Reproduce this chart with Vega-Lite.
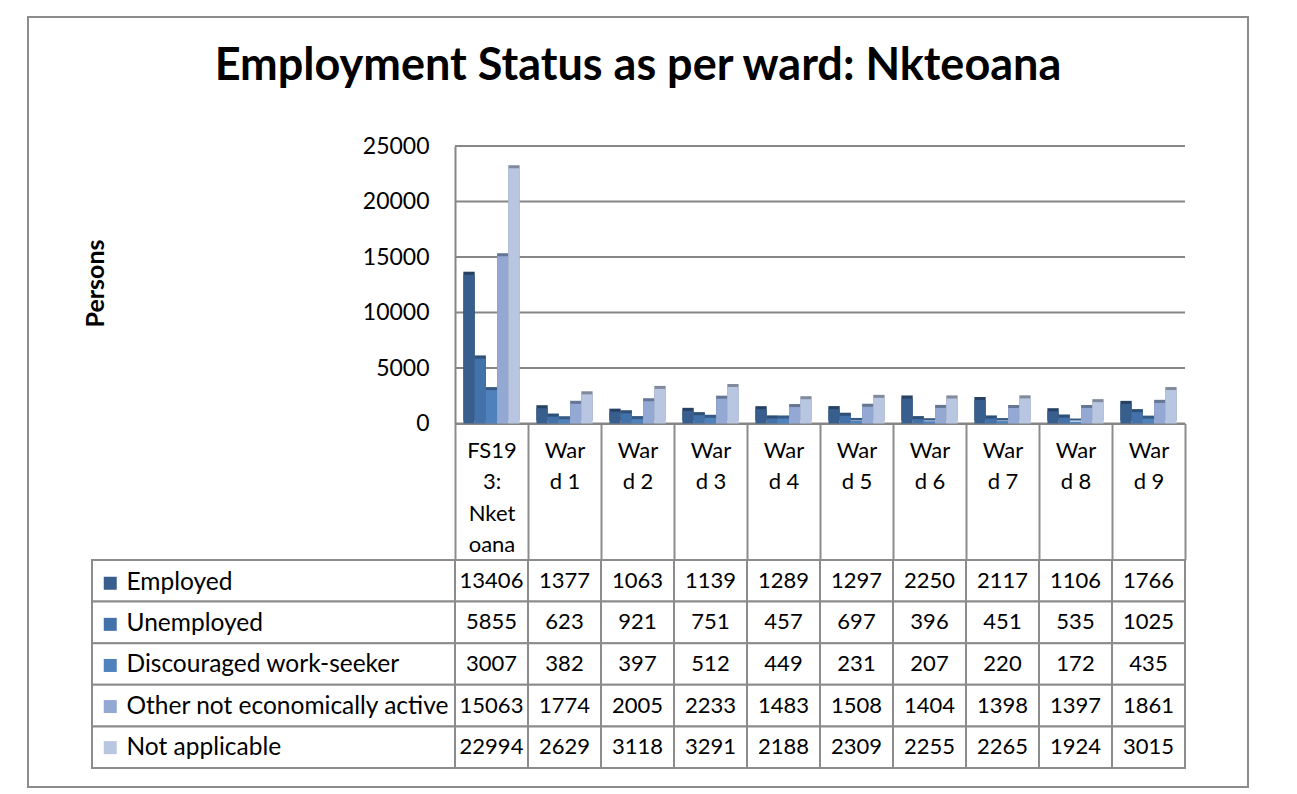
{
  "$schema": "https://vega.github.io/schema/vega-lite/v6.json",
  "width": 1220,
  "height": 770,
  "autosize": {"type": "none"},
  "padding": {"left": 28, "top": 17, "right": 49, "bottom": 7},
  "background": "white",
  "config": {"view": {"stroke": "#8c8c8c", "strokeWidth": 2}, "font": "Lato"},
  "title": {"text": "Employment Status as per ward: Nkteoana", "font": "Lato", "fontSize": 45, "fontWeight": "bold", "color": "black", "anchor": "middle", "frame": "group", "offset": -72},
  "datasets": {
    "main": [
      {"cat": "FS193: Nketoana", "series": "Employed", "value": 13406},
      {"cat": "FS193: Nketoana", "series": "Unemployed", "value": 5855},
      {"cat": "FS193: Nketoana", "series": "Discouraged work-seeker", "value": 3007},
      {"cat": "FS193: Nketoana", "series": "Other not economically active", "value": 15063},
      {"cat": "FS193: Nketoana", "series": "Not applicable", "value": 22994},
      {"cat": "Ward 1", "series": "Employed", "value": 1377},
      {"cat": "Ward 1", "series": "Unemployed", "value": 623},
      {"cat": "Ward 1", "series": "Discouraged work-seeker", "value": 382},
      {"cat": "Ward 1", "series": "Other not economically active", "value": 1774},
      {"cat": "Ward 1", "series": "Not applicable", "value": 2629},
      {"cat": "Ward 2", "series": "Employed", "value": 1063},
      {"cat": "Ward 2", "series": "Unemployed", "value": 921},
      {"cat": "Ward 2", "series": "Discouraged work-seeker", "value": 397},
      {"cat": "Ward 2", "series": "Other not economically active", "value": 2005},
      {"cat": "Ward 2", "series": "Not applicable", "value": 3118},
      {"cat": "Ward 3", "series": "Employed", "value": 1139},
      {"cat": "Ward 3", "series": "Unemployed", "value": 751},
      {"cat": "Ward 3", "series": "Discouraged work-seeker", "value": 512},
      {"cat": "Ward 3", "series": "Other not economically active", "value": 2233},
      {"cat": "Ward 3", "series": "Not applicable", "value": 3291},
      {"cat": "Ward 4", "series": "Employed", "value": 1289},
      {"cat": "Ward 4", "series": "Unemployed", "value": 457},
      {"cat": "Ward 4", "series": "Discouraged work-seeker", "value": 449},
      {"cat": "Ward 4", "series": "Other not economically active", "value": 1483},
      {"cat": "Ward 4", "series": "Not applicable", "value": 2188},
      {"cat": "Ward 5", "series": "Employed", "value": 1297},
      {"cat": "Ward 5", "series": "Unemployed", "value": 697},
      {"cat": "Ward 5", "series": "Discouraged work-seeker", "value": 231},
      {"cat": "Ward 5", "series": "Other not economically active", "value": 1508},
      {"cat": "Ward 5", "series": "Not applicable", "value": 2309},
      {"cat": "Ward 6", "series": "Employed", "value": 2250},
      {"cat": "Ward 6", "series": "Unemployed", "value": 396},
      {"cat": "Ward 6", "series": "Discouraged work-seeker", "value": 207},
      {"cat": "Ward 6", "series": "Other not economically active", "value": 1404},
      {"cat": "Ward 6", "series": "Not applicable", "value": 2255},
      {"cat": "Ward 7", "series": "Employed", "value": 2117},
      {"cat": "Ward 7", "series": "Unemployed", "value": 451},
      {"cat": "Ward 7", "series": "Discouraged work-seeker", "value": 220},
      {"cat": "Ward 7", "series": "Other not economically active", "value": 1398},
      {"cat": "Ward 7", "series": "Not applicable", "value": 2265},
      {"cat": "Ward 8", "series": "Employed", "value": 1106},
      {"cat": "Ward 8", "series": "Unemployed", "value": 535},
      {"cat": "Ward 8", "series": "Discouraged work-seeker", "value": 172},
      {"cat": "Ward 8", "series": "Other not economically active", "value": 1397},
      {"cat": "Ward 8", "series": "Not applicable", "value": 1924},
      {"cat": "Ward 9", "series": "Employed", "value": 1766},
      {"cat": "Ward 9", "series": "Unemployed", "value": 1025},
      {"cat": "Ward 9", "series": "Discouraged work-seeker", "value": 435},
      {"cat": "Ward 9", "series": "Other not economically active", "value": 1861},
      {"cat": "Ward 9", "series": "Not applicable", "value": 3015}
    ],
    "grid": [{"v": 0}, {"v": 5000}, {"v": 10000}, {"v": 15000}, {"v": 20000}, {"v": 25000}]
  },
  "layer": [
    {
      "layer": [
        {
          "data": {"name": "grid"},
          "mark": {"type": "rule", "color": "#868686", "strokeWidth": 2},
          "encoding": {
            "y": {"field": "v", "type": "quantitative", "title": "Persons", "scale": {"domain": [0, 25000], "range": [406.5, 129], "nice": false}},
            "x": {"datum": "FS193: Nketoana", "type": "nominal", "bandPosition": 0},
            "x2": {"datum": "Ward 9", "bandPosition": 1}
          }
        },
        {
          "data": {"name": "main"},
          "mark": {"type": "bar", "xOffset": 3, "yOffset": -3},
          "encoding": {
            "x": {"field": "cat", "type": "nominal", "title": null, "sort": ["FS193: Nketoana", "Ward 1", "Ward 2", "Ward 3", "Ward 4", "Ward 5", "Ward 6", "Ward 7", "Ward 8", "Ward 9"]},
            "xOffset": {"field": "series", "type": "nominal", "sort": ["Employed", "Unemployed", "Discouraged work-seeker", "Other not economically active", "Not applicable"], "scale": {"paddingInner": 0, "paddingOuter": 0.75}},
            "y": {"field": "value", "type": "quantitative", "title": "Persons"},
            "color": {"field": "series", "type": "nominal", "sort": ["Employed", "Unemployed", "Discouraged work-seeker", "Other not economically active", "Not applicable"]}
          }
        },
        {
          "data": {"name": "main"},
          "mark": {"type": "bar", "xOffset": 3, "yOffset": -3, "color": "black", "opacity": 0.3},
          "encoding": {
            "x": {"field": "cat", "type": "nominal", "title": null, "sort": ["FS193: Nketoana", "Ward 1", "Ward 2", "Ward 3", "Ward 4", "Ward 5", "Ward 6", "Ward 7", "Ward 8", "Ward 9"]},
            "xOffset": {"field": "series", "type": "nominal", "sort": ["Employed", "Unemployed", "Discouraged work-seeker", "Other not economically active", "Not applicable"]},
            "y": {"field": "value", "type": "quantitative", "title": "Persons"}
          }
        },
        {
          "data": {"name": "main"},
          "mark": {"type": "bar"},
          "encoding": {
            "x": {
              "field": "cat", "type": "nominal", "title": null,
              "sort": ["FS193: Nketoana", "Ward 1", "Ward 2", "Ward 3", "Ward 4", "Ward 5", "Ward 6", "Ward 7", "Ward 8", "Ward 9"],
              "scale": {"range": [427, 1157], "paddingInner": 0, "paddingOuter": 0},
              "axis": {
                "orient": "bottom", "offset": -363.5, "domainColor": "#868686", "domainWidth": 2,
                "ticks": true, "tickBand": "extent", "tickSize": 136.5, "tickColor": "#8c8c8c", "tickWidth": 2,
                "labelExpr": "datum.value == 'FS193: Nketoana' ? ['FS19', '3:', 'Nket', 'oana'] : (isString(datum.value) && indexof(datum.value, 'Ward') == 0 ? ['War', substring(datum.value, 3)] : '')",
                "labelFont": "Lato", "labelFontSize": 22, "labelColor": "black", "labelLineHeight": 31.5,
                "labelBaseline": "top", "labelPadding": -120, "labelAngle": 0, "labelAlign": "center",
                "labelOverlap": false, "labelBound": false, "labelFlush": false, "grid": false
              }
            },
            "xOffset": {"field": "series", "type": "nominal", "sort": ["Employed", "Unemployed", "Discouraged work-seeker", "Other not economically active", "Not applicable"]},
            "y": {
              "field": "value", "type": "quantitative", "title": "Persons",
              "axis": {
                "orient": "left", "offset": -427, "grid": false, "ticks": false, "values": [0, 5000, 10000, 15000, 20000, 25000],
                "format": "d", "labelFont": "Lato", "labelFontSize": 23, "labelColor": "black", "labelPadding": 26,
                "domainColor": "#868686", "domainWidth": 2,
                "titleFont": "Lato", "titleFontSize": 25, "titleFontWeight": "bold", "titleColor": "black",
                "titleAngle": -90, "titleX": -360, "titleY": 266, "titleAlign": "center", "titleBaseline": "middle"
              }
            },
            "color": {
              "field": "series", "type": "nominal",
              "sort": ["Employed", "Unemployed", "Discouraged work-seeker", "Other not economically active", "Not applicable"],
              "scale": {"domain": ["Employed", "Unemployed", "Discouraged work-seeker", "Other not economically active", "Not applicable"], "range": ["#375E8D", "#4371AA", "#4F81BD", "#93A8D3", "#B9C6E1"]},
              "legend": {
                "orient": "none", "legendX": 70, "legendY": 554, "title": null, "padding": 0,
                "symbolType": "square", "symbolSize": 169, "symbolStrokeWidth": 0, "symbolOpacity": 1,
                "labelFont": "Lato", "labelFontSize": 24.5, "labelColor": "black", "labelOffset": 4, "labelLimit": 400,
                "rowPadding": 16.1
              }
            }
          }
        }
      ]
    },
    {
      "data": {"name": "main"},
      "layer": [
        {
          "mark": {"type": "rect", "fill": "white", "stroke": "#8c8c8c", "strokeWidth": 2},
          "encoding": {
            "x": {"field": "cat", "type": "nominal", "sort": ["FS193: Nketoana", "Ward 1", "Ward 2", "Ward 3", "Ward 4", "Ward 5", "Ward 6", "Ward 7", "Ward 8", "Ward 9"], "scale": {"range": [427, 1157], "paddingInner": 0, "paddingOuter": 0}, "axis": null},
            "y": {"field": "series", "type": "nominal", "sort": ["Employed", "Unemployed", "Discouraged work-seeker", "Other not economically active", "Not applicable"], "scale": {"range": [543, 751], "paddingInner": 0, "paddingOuter": 0}, "axis": null}
          }
        },
        {
          "mark": {"type": "text", "font": "Lato", "fontSize": 22, "color": "black", "align": "center", "baseline": "middle"},
          "encoding": {
            "x": {"field": "cat", "type": "nominal", "sort": ["FS193: Nketoana", "Ward 1", "Ward 2", "Ward 3", "Ward 4", "Ward 5", "Ward 6", "Ward 7", "Ward 8", "Ward 9"], "axis": null},
            "y": {"field": "series", "type": "nominal", "sort": ["Employed", "Unemployed", "Discouraged work-seeker", "Other not economically active", "Not applicable"], "axis": null},
            "text": {"field": "value", "type": "quantitative", "format": "d"}
          }
        }
      ]
    },
    {
      "data": {"name": "main"},
      "transform": [{"filter": "datum.cat == 'FS193: Nketoana'"}],
      "mark": {"type": "rect", "fill": "white", "stroke": "#8c8c8c", "strokeWidth": 2},
      "encoding": {
        "x": {"datum": "legend", "type": "nominal", "scale": {"range": [64, 427], "paddingInner": 0, "paddingOuter": 0}, "axis": null},
        "y": {"field": "series", "type": "nominal", "sort": ["Employed", "Unemployed", "Discouraged work-seeker", "Other not economically active", "Not applicable"], "scale": {"range": [543, 751], "paddingInner": 0, "paddingOuter": 0}, "axis": null}
      }
    }
  ],
  "resolve": {"scale": {"x": "independent", "y": "independent"}}
}
